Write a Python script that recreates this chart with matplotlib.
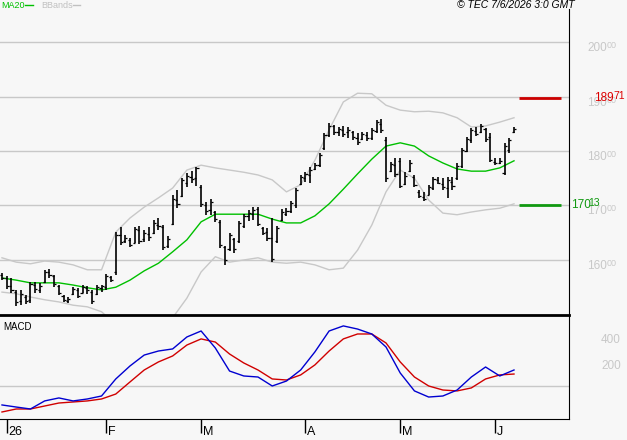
import numpy as np
import pandas as pd
import matplotlib
matplotlib.use("Agg")
import matplotlib.pyplot as plt
from matplotlib.lines import Line2D

plt.rcParams["font.family"] = ["Liberation Sans", "DejaVu Sans"]

# daily OHLC, 31 Dec 2025 -> 5 Jun 2026
opens = [157.2, 156.6, 155.3, 154.2, 152.4, 153.2, 152.6, 155.4, 154.5, 156.0,
         157.8, 157.0, 155.2, 153.4, 152.5, 153.8, 154.5, 154.0, 154.8, 154.2,
         153.8, 154.8, 155.0, 156.8, 157.8, 164.6, 163.4, 163.6, 163.2, 165.5,
         163.8, 164.8, 165.0, 166.5, 166.0, 162.6, 166.6, 171.0, 171.8, 174.2,
         175.3, 175.0, 173.4, 170.0, 169.2, 168.8, 167.0, 162.3, 162.0, 163.8,
         163.4, 166.2, 168.0, 168.4, 169.3, 165.8, 165.2, 164.0, 163.5, 167.4,
         168.4, 168.9, 170.0, 174.0, 175.0, 175.6, 176.7, 177.4, 180.5, 182.9,
         184.5, 183.5, 183.8, 183.4, 183.5, 182.3, 182.2, 183.0, 182.4, 183.6,
         185.0, 182.0, 176.4, 177.4, 178.2, 174.0, 176.4, 175.2, 172.5, 171.6,
         172.0, 173.2, 174.6, 174.0, 173.2, 174.4, 175.0, 177.2, 180.0, 182.0,
         183.6, 183.4, 184.0, 182.6, 178.0, 177.8, 176.0, 180.2, 183.5]
highs = [157.6, 157.1, 156.7, 154.5, 154.5, 153.6, 156.0, 156.0, 155.8, 158.2,
         158.3, 157.2, 155.4, 153.6, 153.2, 155.0, 154.9, 155.4, 155.2, 154.5,
         155.4, 155.4, 157.4, 157.1, 165.1, 166.1, 164.6, 164.0, 166.1, 166.2,
         165.5, 166.1, 167.3, 167.7, 166.4, 164.4, 171.9, 172.8, 175.0, 176.0,
         176.3, 177.1, 173.8, 170.6, 171.1, 169.0, 167.3, 162.6, 165.0, 164.1,
         167.2, 168.4, 169.2, 169.7, 169.7, 166.0, 165.9, 167.7, 166.2, 169.3,
         169.5, 170.8, 173.2, 175.6, 176.1, 177.0, 177.8, 179.6, 183.3, 185.1,
         184.8, 184.4, 184.6, 184.4, 183.7, 183.3, 183.5, 183.5, 184.2, 185.7,
         185.9, 182.6, 178.0, 178.7, 178.7, 176.1, 178.3, 175.6, 172.8, 172.5,
         173.8, 175.2, 175.2, 175.0, 175.2, 175.2, 177.8, 180.6, 182.6, 184.2,
         184.4, 185.0, 184.2, 183.3, 178.7, 178.7, 181.5, 182.4, 184.4]
lows = [156.3, 154.7, 153.9, 151.6, 151.7, 151.9, 152.1, 153.9, 153.9, 155.8,
        156.7, 155.0, 153.6, 152.3, 152.1, 153.6, 153.0, 153.9, 153.8, 151.9,
        153.6, 154.1, 154.5, 156.0, 157.3, 162.8, 163.1, 162.4, 163.1, 162.9,
        163.3, 163.5, 164.8, 165.5, 161.8, 162.2, 166.4, 169.5, 171.6, 173.4,
        174.1, 173.6, 169.7, 168.3, 168.2, 167.0, 162.2, 159.1, 161.7, 161.3,
        163.1, 165.9, 167.2, 167.3, 166.2, 164.6, 163.5, 159.6, 163.1, 167.2,
        168.1, 168.6, 169.6, 173.8, 174.3, 174.1, 176.5, 177.1, 180.2, 182.6,
        182.9, 182.8, 182.6, 182.4, 182.0, 181.1, 182.0, 181.8, 182.0, 183.3,
        183.3, 174.3, 176.1, 175.2, 173.2, 173.8, 176.1, 173.4, 171.4, 170.8,
        171.9, 172.8, 173.9, 172.8, 171.4, 172.8, 174.7, 176.9, 179.8, 181.5,
        182.8, 183.3, 181.7, 178.0, 177.4, 177.6, 175.6, 179.6, 183.3]
closes = [156.6, 155.2, 154.5, 152.3, 153.8, 152.5, 155.6, 154.6, 155.2, 157.8,
          157.3, 155.6, 153.9, 152.6, 152.9, 154.7, 153.4, 155.0, 154.4, 152.4,
          155.0, 155.2, 157.0, 156.4, 164.5, 163.3, 164.0, 162.8, 165.6, 163.5,
          165.0, 164.2, 166.8, 166.2, 162.3, 163.8, 171.2, 170.3, 174.6, 175.5,
          174.8, 176.8, 170.2, 169.0, 170.6, 167.6, 162.8, 160.0, 164.5, 162.0,
          166.8, 168.0, 168.6, 169.2, 166.6, 165.0, 164.0, 160.2, 165.8, 168.8,
          169.0, 170.4, 172.8, 175.2, 175.8, 176.6, 177.5, 179.2, 182.9, 184.6,
          183.4, 184.0, 183.2, 183.8, 182.5, 181.6, 183.1, 182.3, 183.8, 185.3,
          183.8, 175.0, 177.6, 175.8, 173.6, 175.5, 177.8, 173.8, 171.8, 171.2,
          173.4, 174.8, 174.2, 173.4, 174.6, 173.6, 177.2, 180.2, 182.2, 183.8,
          183.2, 184.6, 182.2, 178.4, 177.8, 178.2, 181.0, 182.0, 184.0]

# indicator readings, every third session
ma20 = [156.7, 156.3, 155.8, 155.8, 155.8, 155.4, 154.9, 154.5, 155.0, 156.3,
        158.0, 159.4, 161.5, 163.7, 167.0, 168.4, 168.4, 168.4, 168.4, 167.5,
        166.8, 166.8, 168.1, 170.3, 173.0, 175.8, 178.5, 180.9, 181.5, 180.9,
        179.1, 177.8, 176.7, 176.3, 176.3, 176.9, 178.2]
bb_upper = [160.4, 159.6, 159.3, 159.8, 159.6, 159.1, 158.2, 158.2, 165.1, 167.7,
            169.7, 171.4, 173.2, 176.5, 177.4, 176.9, 176.5, 176.1, 175.6, 174.7,
            172.5, 173.8, 178.3, 183.9, 189.0, 190.6, 190.5, 188.4, 187.5, 187.2,
            187.3, 187.0, 186.1, 184.4, 184.6, 185.3, 186.1]
bb_lower = [154.1, 153.8, 153.2, 152.7, 152.3, 151.7, 151.4, 150.5, 148.1, 146.2,
            145.3, 146.2, 149.4, 153.0, 157.8, 160.6, 159.6, 160.0, 160.4, 159.6,
            159.4, 159.6, 159.1, 158.2, 158.5, 161.8, 166.4, 172.5, 176.5, 175.0,
            171.0, 168.6, 168.3, 168.8, 169.2, 169.5, 170.3]
macd = [-146, -162, -177, -115, -92, -115, -100, -77, 54, 154,
        238, 269, 285, 377, 423, 292, 115, 77, 69, 0,
        38, 123, 262, 423, 462, 438, 400, 300, 100, -38,
        -85, -77, -31, 69, 146, 77, 123]
signal = [-200, -177, -177, -154, -131, -123, -115, -100, -62, 31,
          123, 185, 231, 315, 362, 338, 246, 177, 123, 54,
          46, 85, 162, 269, 362, 400, 400, 331, 185, 69,
          0, -31, -38, -15, 54, 85, 92]

target_high = 189.71
target_low = 170.13
price_levels = [160, 170, 180, 190, 200]
macd_levels = [200, 400]

dates = pd.bdate_range("2025-12-31", "2026-06-05")
dates = dates.drop(pd.to_datetime(["2026-01-01", "2026-04-03", "2026-04-06", "2026-05-01"]))
idx = np.arange(len(dates))
ind_idx = idx[::3]

bg = "#f7f7f7"
grid_c = "#c8c8c8"
fig = plt.figure(figsize=(6.27, 4.40), dpi=100, facecolor=bg)
ax = fig.add_axes([0, 125 / 440, 569 / 627, 306 / 440], facecolor=bg)
ax2 = fig.add_axes([0, 21 / 440, 569 / 627, 104 / 440], facecolor=bg)

# price panel
for lv in price_levels:
    ax.axhline(lv, color=grid_c, lw=1, zorder=0)
ax.plot(ind_idx, bb_upper, color="#c8c8c8", lw=1)
ax.plot(ind_idx, bb_lower, color="#c8c8c8", lw=1)
ax.plot(ind_idx, ma20, color="#00c000", lw=1)
ax.vlines(idx, lows, highs, color="black", lw=1.2)
ax.hlines(opens, idx - 0.45, idx, color="black", lw=0.9)
ax.hlines(closes, idx, idx + 0.45, color="black", lw=0.9)

ax.hlines(target_high, 109, 118, color="#cc0000", lw=2)
ax.hlines(target_low, 109, 118, color="#109910", lw=2)

ax.set_xlim(-0.42, 119.6)
ax.set_ylim(149.9, 206.06)
ax.set_xticks([])
ax.set_yticks([])
for s in ["top", "left", "bottom"]:
    ax.spines[s].set_visible(False)
ax.spines["right"].set_color("black")

for lv in price_levels:
    ax.annotate(str(lv), xy=(1, lv), xycoords=("axes fraction", "data"),
                xytext=(18, 0), textcoords="offset pixels", ha="left", va="top",
                color=grid_c, fontsize=8.5, annotation_clip=False)
    ax.annotate("00", xy=(1, lv), xycoords=("axes fraction", "data"),
                xytext=(38, 1), textcoords="offset pixels", ha="left", va="top",
                color=grid_c, fontsize=6.5, annotation_clip=False)

hi_int, hi_dec = f"{target_high:.2f}".split(".")
lo_int, lo_dec = f"{target_low:.2f}".split(".")
ax.annotate(hi_int, xy=(1, target_high), xycoords=("axes fraction", "data"),
            xytext=(25, 0), textcoords="offset pixels", ha="left", va="center",
            color="#dd0000", fontsize=8.5, annotation_clip=False)
ax.annotate(hi_dec, xy=(1, target_high), xycoords=("axes fraction", "data"),
            xytext=(44, 2), textcoords="offset pixels", ha="left", va="center",
            color="#dd0000", fontsize=7.5, annotation_clip=False)
ax.annotate(lo_int, xy=(1, target_low), xycoords=("axes fraction", "data"),
            xytext=(2, 0), textcoords="offset pixels", ha="left", va="center",
            color="#109910", fontsize=8.5, annotation_clip=False)
ax.annotate(lo_dec, xy=(1, target_low), xycoords=("axes fraction", "data"),
            xytext=(19, 2), textcoords="offset pixels", ha="left", va="center",
            color="#109910", fontsize=7.5, annotation_clip=False)

# MACD panel
ax2.axhline(0, color=grid_c, lw=1, zorder=0)
ax2.plot(ind_idx, signal, color="#d00000", lw=1)
ax2.plot(ind_idx, macd, color="#0000d0", lw=1)
ax2.set_xlim(-0.42, 119.6)
ax2.set_ylim(-254, 546)
ax2.set_yticks([])
ax2.spines["left"].set_visible(False)
ax2.spines["top"].set_linewidth(2)
for s in ["top", "bottom", "right"]:
    ax2.spines[s].set_color("black")
ax2.text(3 / 569, 0.93, "MACD", transform=ax2.transAxes, fontsize=7,
         ha="left", va="top")
for lv in macd_levels:
    ax2.annotate(str(lv), xy=(1, lv), xycoords=("axes fraction", "data"),
                 xytext=(32, 0), textcoords="offset pixels", ha="left", va="top",
                 color=grid_c, fontsize=8.5, annotation_clip=False)

# month ticks
month_pos = []
month_lab = []
for i in range(1, len(dates)):
    if dates[i].month != dates[i - 1].month:
        month_pos.append(idx[i])
        month_lab.append(dates[i].strftime("%y") if dates[i].month == 1 else dates[i].strftime("%b")[0])
ax2.set_xticks(month_pos)
ax2.set_xticklabels([])
ax2.tick_params(axis="x", length=10, width=1, direction="out", color="black")
for p, lab in zip(month_pos, month_lab):
    ax2.annotate(lab, xy=(p, 0), xycoords=("data", "axes fraction"),
                 xytext=(2, -19), textcoords="offset pixels", ha="left",
                 va="bottom", fontsize=9, annotation_clip=False)

# legend and header
fig.text(1 / 627, 1 - 1 / 440, "MA20", color="#00c000", fontsize=6.5, ha="left", va="top")
fig.add_artist(Line2D([25 / 627, 33 / 627], [1 - 5 / 440, 1 - 5 / 440], color="#00c000", lw=1))
fig.text(41 / 627, 1 - 1 / 440, "BBands", color="#c0c0c0", fontsize=6.5, ha="left", va="top")
fig.add_artist(Line2D([73 / 627, 80 / 627], [1 - 5 / 440, 1 - 5 / 440], color="#c0c0c0", lw=1))
fig.text(575 / 627, 1, "\u00a9 TEC 7/6/2026 3:0 GMT", fontsize=7.5, style="italic",
         ha="right", va="top")

fig.savefig("out.png", dpi=100, facecolor=bg)
